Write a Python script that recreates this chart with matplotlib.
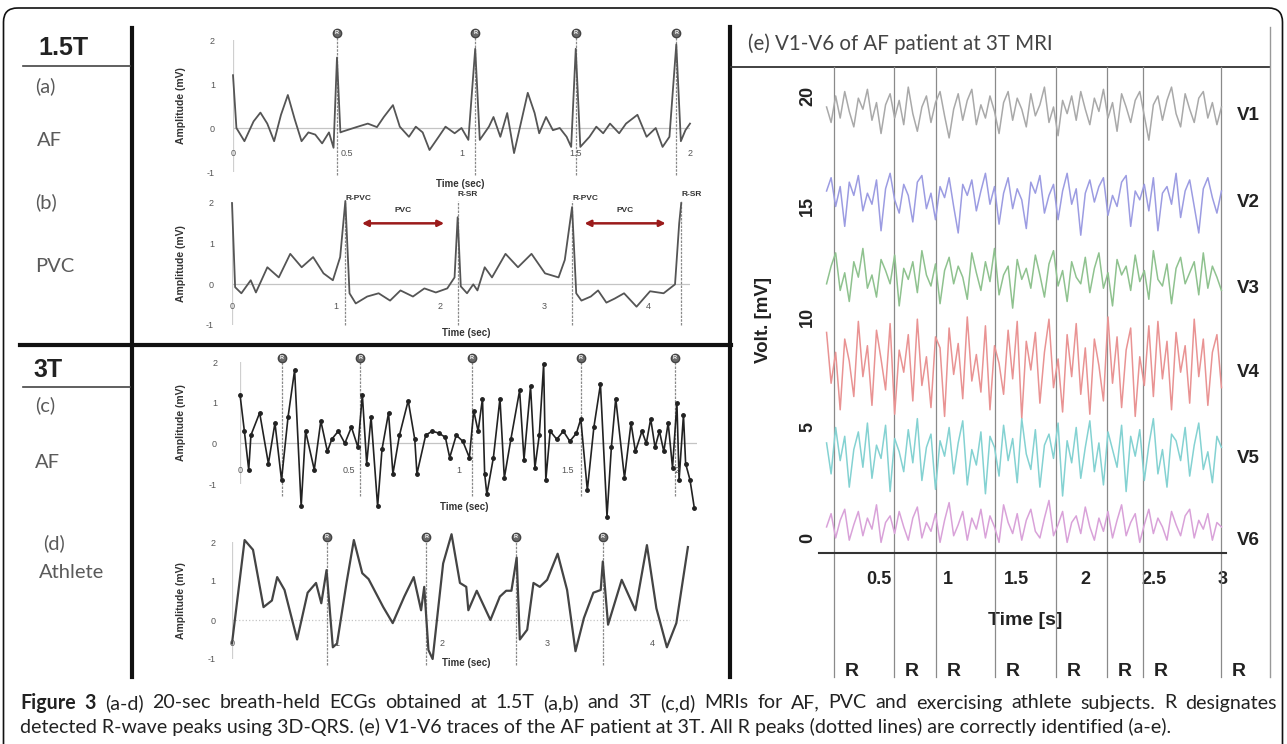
import matplotlib
matplotlib.use('Agg')
import matplotlib.pyplot as plt
from matplotlib.patches import FancyBboxPatch
import numpy as np

plt.rcParams['font.family'] = ['Liberation Sans', 'DejaVu Sans']
plt.rcParams['axes.unicode_minus'] = False

W, H = 1287, 744

# ---- (a) 1.5T, AF ----
t_a = [0.00, 0.015, 0.05, 0.09, 0.12, 0.15, 0.18, 0.21, 0.24, 0.27,
       0.30, 0.33, 0.36, 0.39, 0.42, 0.44, 0.455, 0.47, 0.48, 0.54,
       0.59, 0.63, 0.66, 0.70, 0.73, 0.77, 0.80, 0.83, 0.86, 0.90,
       0.93, 0.97, 1.00, 1.03, 1.06, 1.08, 1.12, 1.14, 1.17, 1.20,
       1.23, 1.29, 1.32, 1.34, 1.37, 1.40, 1.43, 1.46, 1.48, 1.50,
       1.52, 1.56, 1.59, 1.62, 1.65, 1.69, 1.72, 1.77, 1.81, 1.85,
       1.88, 1.91, 1.94, 1.96, 1.98, 2.00]
v_a = [1.20, 0.00, -0.30, 0.15, 0.35, 0.10, -0.30, 0.30, 0.75, 0.20,
       -0.30, -0.10, -0.15, -0.35, -0.10, -0.45, 1.60, -0.10, -0.08, 0.02,
       0.10, 0.02, 0.25, 0.52, 0.03, -0.20, 0.03, -0.10, -0.50, -0.20,
       0.03, -0.12, 0.00, -0.27, 1.80, -0.27, 0.03, 0.25, -0.20, 0.34,
       -0.57, 0.80, 0.34, -0.12, 0.25, -0.05, 0.00, -0.20, -0.43, 1.80,
       -0.43, -0.20, 0.03, -0.12, 0.10, -0.12, 0.10, 0.30, -0.20, 0.00,
       -0.43, -0.20, 1.90, -0.30, -0.05, 0.10]
r_a = [0.455, 1.06, 1.50, 1.94]
ticks_a = [0, 0.5, 1, 1.5, 2]

# ---- (b) 1.5T, PVC ----
t_b = [0.00, 0.03, 0.09, 0.18, 0.23, 0.34, 0.45, 0.56, 0.67, 0.78,
       0.88, 0.97, 1.04, 1.09, 1.13, 1.19, 1.30, 1.41, 1.52, 1.62,
       1.74, 1.85, 1.96, 2.07, 2.14, 2.17, 2.20, 2.26, 2.32, 2.36,
       2.43, 2.50, 2.63, 2.75, 2.88, 3.01, 3.14, 3.20, 3.27, 3.31,
       3.36, 3.45, 3.52, 3.60, 3.68, 3.77, 3.89, 4.02, 4.15, 4.26,
       4.30, 4.32]
v_b = [2.00, -0.07, -0.22, 0.10, -0.20, 0.42, 0.17, 0.75, 0.42, 0.67,
       0.27, 0.10, 0.67, 2.05, -0.22, -0.47, -0.30, -0.22, -0.40, -0.15,
       -0.30, -0.10, -0.20, -0.10, 0.17, 1.65, -0.05, -0.22, 0.00, -0.15,
       0.42, 0.17, 0.75, 0.42, 0.75, 0.27, 0.17, 0.60, 1.90, -0.22,
       -0.40, -0.30, -0.15, -0.45, -0.35, -0.22, -0.55, -0.17, -0.22, 0.00,
       1.50, 2.00]
r_b = [1.09, 2.17, 3.27, 4.32]
r_b_names = ['R-PVC', 'R-SR', 'R-PVC', 'R-SR']
pvc_spans = [(1.25, 2.04), (3.39, 4.17)]
ticks_b = [0, 1, 2, 3, 4]

# ---- (c) 3T, AF ----
t_c = [0.00, 0.02, 0.04, 0.05, 0.09, 0.13, 0.16, 0.19, 0.22, 0.25,
       0.28, 0.30, 0.34, 0.37, 0.40, 0.42, 0.45, 0.48, 0.51, 0.54,
       0.56, 0.58, 0.60, 0.63, 0.65, 0.68, 0.70, 0.73, 0.77, 0.80,
       0.81, 0.85, 0.88, 0.91, 0.94, 0.96, 0.99, 1.02, 1.05, 1.07,
       1.09, 1.11, 1.12, 1.13, 1.16, 1.19, 1.21, 1.24, 1.28, 1.30,
       1.33, 1.35, 1.37, 1.39, 1.40, 1.42, 1.45, 1.48, 1.51, 1.54,
       1.56, 1.59, 1.62, 1.65, 1.68, 1.70, 1.72, 1.76, 1.79, 1.81,
       1.84, 1.86, 1.88, 1.90, 1.92, 1.94, 1.96, 1.98, 2.00, 2.01,
       2.03, 2.04, 2.06, 2.08]
v_c = [1.20, 0.30, -0.65, 0.20, 0.75, -0.50, 0.50, -0.90, 0.65, 1.80,
       -1.55, 0.30, -0.65, 0.55, -0.20, 0.10, 0.30, 0.00, 0.40, -0.10,
       1.20, -0.50, 0.65, -1.55, -0.15, 0.75, -0.75, 0.20, 1.05, 0.10,
       -0.75, 0.20, 0.30, 0.25, 0.15, -0.35, 0.20, 0.05, -0.35, 0.80,
       0.30, 1.10, -0.75, -1.25, -0.35, 1.10, -0.85, 0.10, 1.30, -0.40,
       1.40, -0.60, 0.20, 1.95, -0.90, 0.30, 0.10, 0.30, 0.05, 0.25,
       0.60, -1.15, 0.40, 1.45, -1.80, -0.10, 1.10, -0.85, 0.50, -0.20,
       0.30, 0.00, 0.60, -0.10, 0.30, -0.20, 0.50, -0.60, 1.00, -0.90,
       0.70, -0.50, -0.90, -1.60]
r_c = [0.19, 0.55, 1.06, 1.56, 1.99]
ticks_c = [0, 0.5, 1, 1.5, 2]

# ---- (d) 3T, athlete ----
t_d = [0.00, 0.12, 0.20, 0.30, 0.38, 0.43, 0.50, 0.62, 0.72, 0.80,
       0.85, 0.90, 0.96, 1.00, 1.09, 1.16, 1.24, 1.30, 1.44, 1.53,
       1.64, 1.73, 1.80, 1.83, 1.87, 1.91, 2.01, 2.09, 2.17, 2.23,
       2.25, 2.33, 2.46, 2.55, 2.61, 2.66, 2.71, 2.74, 2.81, 2.87,
       2.93, 3.00, 3.10, 3.19, 3.27, 3.35, 3.44, 3.51, 3.53, 3.58,
       3.71, 3.84, 3.95, 4.04, 4.14, 4.23, 4.34]
v_d = [-0.60, 2.05, 1.80, 0.33, 0.50, 1.10, 0.77, -0.50, 0.70, 0.95,
       0.43, 1.28, -0.70, -0.60, 0.95, 2.05, 1.20, 1.05, 0.33, -0.08,
       0.60, 1.10, 0.25, 0.85, -0.77, -1.00, 1.45, 2.20, 0.95, 0.85,
       0.25, 0.75, 0.00, 0.60, 0.75, 0.75, 1.60, -0.50, -0.25, 0.95,
       0.85, 1.03, 1.70, 0.77, -0.80, 0.05, 0.70, 0.77, 1.50, -0.12,
       1.03, 0.25, 1.92, 0.30, -0.70, -0.08, 1.87]
r_d = [0.90, 1.85, 2.70, 3.53]
ticks_d = [0, 1, 2, 3, 4]

# ---- (e) V1-V6, AF patient at 3T ----
lead_names = ['V1', 'V2', 'V3', 'V4', 'V5', 'V6']
lead_base = [19.2, 15.3, 11.7, 7.8, 3.8, 0.3]
lead_label_y = [19.1, 15.2, 11.3, 7.5, 3.6, -0.1]
lead_colors = ['#a9a9a9', '#9c9ce2', '#8fc28f', '#e99393', '#84d2d2', '#d9a2d9']
v1 = [0.3, -0.4, 0.8, -0.2, 1.0, 0.1, -0.6, 0.7, 0.2, 1.1, -0.3, 0.5, -0.9, 0.4, 0.9, -0.2, 0.6, -0.5, 1.2, 0.0,
      -0.8, 0.3, 0.8, -0.4, 0.5, 1.0, -0.1, -1.1, 0.2, 0.9, -0.3, 0.6, 1.1, -0.5, 0.4, -0.2, 0.8, 0.1, -0.9, 0.5,
      1.0, -0.3, 0.7, 0.2, -0.6, 0.9, -0.1, 0.4, 1.2, -0.4, 0.3, -1.0, 0.6, 0.0, 0.8, -0.3, 1.0, 0.2, -0.5, 0.7,
      0.1, 1.1, -0.2, 0.5, -0.8, 0.9, 0.3, -0.4, 0.6, 1.0, -0.1, -1.2, 0.4, 0.8, -0.3, 0.6, 1.2, 0.0, -0.6, 0.9,
      0.2, -0.4, 0.7, 1.0, -0.2, 0.5, -0.5, 0.3]
v2 = [0.4, 1.0, -0.3, 0.6, -1.2, 0.8, 0.2, 1.1, -0.5, 0.3, -0.2, 0.9, -1.4, 0.5, 1.2, 0.0, -0.6, 0.7, 0.2, -1.0,
      0.8, 1.1, -0.4, 0.3, -0.9, 0.6, 0.1, 1.0, -0.3, -1.5, 0.7, 0.2, 0.9, -0.5, 0.4, 1.2, -0.2, 0.6, -1.1, 0.3,
      1.0, -0.4, 0.5, 0.0, -1.3, 0.8, 0.3, 1.1, -0.6, 0.2, 0.7, -0.9, 0.4, 1.2, -0.2, 0.5, -1.6, 0.3, 0.9, -0.1,
      0.6, 1.0, -0.7, 0.2, -0.3, 0.8, 1.1, -1.2, 0.4, 0.0, 0.7, -0.5, 1.0, -1.4, 0.3, 0.6, -0.2, 1.2, -0.8, 0.4,
      0.9, -0.3, -1.5, 0.5, 1.0, 0.1, -0.6, 0.4]
v3 = [-0.2, 0.6, 1.2, -0.5, 0.3, -1.0, 0.8, 0.1, 1.4, -0.4, 0.2, -0.8, 0.9, 0.4, -0.2, 1.1, -1.2, 0.5, 0.0, 0.8,
      -0.6, 1.3, 0.2, -0.3, 0.7, -1.1, 0.4, 1.0, -0.2, 0.6, 0.1, -0.9, 1.2, 0.3, -0.5, 0.8, -0.1, 1.4, -0.7, 0.2,
      0.6, -1.3, 0.9, 0.0, 0.5, -0.4, 1.1, 0.2, -0.8, 0.7, 1.3, -0.3, 0.4, -1.0, 0.8, 0.1, -0.2, 1.0, -0.6, 0.5,
      1.2, -0.4, 0.3, -1.2, 0.9, 0.2, 0.6, -0.5, 1.1, -0.1, 0.4, -0.9, 1.3, 0.0, -0.3, 0.7, -1.1, 0.5, 1.0, -0.2,
      0.3, 0.8, -0.7, 1.2, -0.4, 0.6, 0.1, -0.5]
v4 = [1.5, -0.8, 0.6, -2.0, 1.2, 0.2, -1.4, 2.0, -0.5, 0.9, -1.8, 1.6, 0.3, -1.1, 1.9, -2.2, 0.7, -0.3, 1.4, -1.6,
      2.1, -0.9, 0.4, -1.9, 1.3, 0.8, -2.3, 1.7, -0.4, 1.0, -1.5, 2.2, -0.7, 0.5, -1.2, 1.8, -2.0, 0.9, 0.1, -1.3,
      1.6, -0.6, 2.0, -2.4, 1.1, -0.2, 1.5, -1.7, 0.6, 2.1, -1.0, 0.3, -2.1, 1.4, -0.5, 1.9, -1.3, 0.8, -2.2, 1.2,
      0.0, -1.6, 2.2, -0.8, 1.3, -1.9, 0.7, 1.7, -2.3, 0.4, -0.9, 1.8, -1.4, 2.0, -0.6, 1.1, -2.0, 1.5, -0.3, 0.9,
      -1.7, 2.1, -0.5, 1.2, -1.8, 0.6, 1.4, -1.0]
v5 = [0.5, -0.9, 1.2, -0.3, 0.8, -1.5, 0.2, 1.0, -0.6, 1.4, -1.1, 0.4, -0.2, 1.3, -1.7, 0.7, 0.1, -0.8, 1.1, -0.4,
      1.6, -1.2, 0.3, 0.9, -1.6, 0.6, -0.1, 1.2, -0.9, 0.5, 1.5, -1.4, 0.2, -0.5, 1.0, -1.8, 0.8, 0.3, -1.0, 1.3,
      -0.3, 0.7, -1.3, 1.6, 0.0, -0.7, 1.1, -1.5, 0.4, 0.9, -0.2, 1.4, -1.9, 0.6, -0.4, 1.2, -1.1, 0.3, 1.5, -0.8,
      0.5, -1.4, 1.0, 0.2, -0.6, 1.3, -1.7, 0.8, -0.1, 1.1, -1.2, 0.4, 1.6, -0.9, 0.2, -1.5, 0.9, 0.6, -0.3, 1.2,
      -1.0, 0.4, 1.4, -0.7, 0.1, -1.3, 0.8, 0.3]
v6 = [0.2, 0.8, -0.3, 0.5, 1.0, -0.4, 0.3, 0.9, -0.2, 0.6, 0.1, 1.2, -0.5, 0.4, 0.7, -0.1, 0.9, 0.2, -0.4, 0.6,
      1.1, -0.3, 0.4, 0.0, 0.8, -0.5, 0.5, 1.3, -0.2, 0.3, 0.9, -0.4, 0.6, 0.1, 1.0, -0.3, 0.7, 0.2, -0.5, 1.2,
      0.4, -0.1, 0.8, -0.4, 0.5, 1.0, 0.0, -0.3, 0.6, 1.4, -0.2, 0.3, 0.9, -0.5, 0.4, 0.7, -0.1, 1.1, 0.2, -0.4,
      0.6, 0.0, 0.9, -0.3, 0.5, 1.2, -0.2, 0.4, 0.8, -0.5, 0.3, 1.0, -0.1, 0.6, 0.2, -0.4, 0.9, 0.3, -0.2, 0.7,
      1.0, -0.3, 0.5, 0.1, 0.8, -0.4, 0.4, 0.2]
leads = [v1, v2, v3, v4, v5, v6]
t_e = np.linspace(0.12, 2.99, len(v1))  # sample times of the traces
r_e = [0.174, 0.610, 0.916, 1.344, 1.788, 2.158, 2.420, 2.987]
ticks_e = [0.5, 1, 1.5, 2, 2.5, 3]
volt_ticks = [0, 5, 10, 15, 20]

caption1 = ('Figure 3 (a-d) 20-sec breath-held ECGs obtained at 1.5T (a,b) and 3T (c,d) MRIs '
            'for AF, PVC and exercising athlete subjects. R designates')
caption2 = ('detected R-wave peaks using 3D-QRS. (e) V1-V6 traces of the AF patient at 3T. '
            'All R peaks (dotted lines) are correctly identified (a-e).')


fig = plt.figure(figsize=(W / 100, H / 100), dpi=100)
bg = fig.add_axes([0, 0, 1, 1])
bg.set_xlim(0, W)
bg.set_ylim(H, 0)
bg.axis('off')


def px_axes(x0, y0, x1, y1):
    return fig.add_axes([x0 / W, 1 - y1 / H, (x1 - x0) / W, (y1 - y0) / H])


# frame and separators
bg.add_patch(FancyBboxPatch((3.5, 8), 1279, 790, boxstyle='round,pad=0,rounding_size=14',
                            fill=False, ec='#111', lw=1.2))
bg.plot([132, 132], [28, 677], color='#111', lw=3)
bg.plot([20, 731], [345, 345], color='#111', lw=3)
bg.plot([730, 730], [27, 677], color='#111', lw=3)
bg.plot([731, 1270], [67, 67], color='#333', lw=1.3)
bg.plot([1270, 1270], [27, 677], color='#999', lw=1)
bg.plot([23, 130], [66, 66], color='#444', lw=1.2)
bg.plot([23, 130], [387, 387], color='#444', lw=1.2)

bg.text(38, 48, '1.5T', fontsize=18, fontweight='bold', color='#222', va='center')
bg.text(33, 370, '3T', fontsize=18, fontweight='bold', color='#222', va='center')
for txt, x, y in [('(a)', 35, 86), ('AF', 37, 140), ('(b)', 35, 202), ('PVC', 35, 267),
                  ('(c)', 35, 405), ('AF', 35, 462), ('(d)', 43, 543), ('Athlete', 39, 573)]:
    bg.text(x, y, txt, fontsize=14.5, family='Lato', color='#5a5a5a', va='center')
bg.text(748, 44, '(e) V1-V6 of AF patient at 3T MRI', fontsize=14.8, family='Lato',
        color='#444', va='center')


def ecg_panel(box, tmax, t, v, rpk, rtop, rbot, ticks, tick_y, xlab, ypad,
              color='#555', lw=1.3, zero_ls='-', dots=False, circles=True):
    x0, y0, x1, y1 = box
    ax = px_axes(x0, y0, x1, y1)
    ax.set_xlim(0, tmax)
    ax.set_ylim(-1, 2)
    ax.patch.set_alpha(0)
    for s in ax.spines.values():
        s.set_visible(False)
    ax.set_xticks([])
    ax.set_yticks([-1, 0, 1, 2])
    ax.tick_params(axis='y', length=0, pad=ypad, labelsize=6.5, labelcolor='#555')
    ax.axhline(0, color='#c4c4c4', lw=0.9, ls=zero_ls)
    ax.axvline(0, color='#cfcfcf', lw=0.9)
    ax.vlines(rpk, rbot, rtop, colors='#8a8a8a', lw=0.9, linestyles=(0, (2, 1)), clip_on=False)
    if circles:
        ax.plot(rpk, [rtop] * len(rpk), 'o', ms=6, mfc='#6a6a6a', mec='#444', clip_on=False)
        for r in rpk:
            ax.text(r, rtop, 'R', fontsize=4, color='white', fontweight='bold',
                    ha='center', va='center', clip_on=False)
    if dots:
        ax.plot(t, v, color=color, lw=lw, marker='o', ms=2.5, clip_on=False)
    else:
        ax.plot(t, v, color=color, lw=lw, clip_on=False)
    for tk in ticks:
        ax.text(tk, tick_y, f'{tk:g}', ha='center', va='center', fontsize=6.5, color='#555')
    ax.set_ylabel('Amplitude (mV)', fontsize=7.5, fontweight='bold', color='#333')
    ax.yaxis.set_label_coords((186 - x0) / (x1 - x0), 0.5)
    ax.set_xlabel('Time (sec)', fontsize=7, fontweight='bold', color='#333')
    ax.xaxis.label.set_va('center')
    ax.xaxis.set_label_coords((xlab[0] - x0) / (x1 - x0), (y1 - xlab[1]) / (y1 - y0))
    return ax


ax_a = ecg_panel((233, 40, 690, 172), 2.0, t_a, v_a, r_a, 2.16, -1.07, ticks_a, -0.57,
                 (460, 184), 13)
ax_b = ecg_panel((232, 203, 690, 325), 4.404, t_b, v_b, r_b, 2.05, -1.0, ticks_b, -0.54,
                 (466, 333), 13, circles=False)
for r, name in zip(r_b, r_b_names):
    ax_b.text(r, 2.11 if name == 'R-PVC' else 2.2, name, fontsize=6, fontweight='bold',
              color='#333', ha='left', va='center', clip_on=False)
for a0, a1 in pvc_spans:
    ax_b.annotate('', xy=(a1, 1.5), xytext=(a0, 1.5),
                  arrowprops=dict(arrowstyle='<|-|>', color='#9b1b1b', lw=1.8,
                                  mutation_scale=9, shrinkA=0, shrinkB=0))
    ax_b.text((a0 + a1) / 2, 1.82, 'PVC', fontsize=6, fontweight='bold', color='#333',
              ha='center', va='center')
ax_c = ecg_panel((240, 362, 697, 484), 2.092, t_c, v_c, r_c, 2.11, -1.3, ticks_c, -0.66,
                 (464, 507), 16.5, color='#222', lw=1.2, dots=True)
ax_d = ecg_panel((232, 542, 690, 659), 4.36, t_d, v_d, r_d, 2.13, -1.15, ticks_d, -0.6,
                 (466, 663), 12, color='#444', lw=1.6, zero_ls=':')

# ---- (e) ----
ax_e = px_axes(819, 67, 1226, 553)
ax_e.set_xlim(0.065, 3.023)
ax_e.set_ylim(-0.68, 21.31)
ax_e.patch.set_alpha(0)
for side in ['left', 'top', 'right']:
    ax_e.spines[side].set_visible(False)
ax_e.spines['bottom'].set_linewidth(1.5)
ax_e.spines['bottom'].set_color('#333')
for r in r_e:
    ax_e.axvline(r, ymin=-0.255, ymax=1.0, color='#8a8a8a', lw=0.9, clip_on=False)
    ax_e.annotate('R', xy=(r, -0.243), xycoords=ax_e.get_xaxis_transform(), xytext=(13, 0),
                  textcoords='offset points', ha='center', va='center', fontsize=14,
                  fontweight='bold', color='#222')
for vals, base, col in zip(leads, lead_base, lead_colors):
    ax_e.plot(t_e, np.array(vals) + base, color=col, lw=1.1)
for name, ly in zip(lead_names, lead_label_y):
    ax_e.text(3.103, ly, name, fontsize=13.5, fontweight='bold', color='#222',
              ha='left', va='center', clip_on=False)
ax_e.set_xticks(ticks_e)
ax_e.set_xticklabels([f'{x:g}' for x in ticks_e], fontsize=13, fontweight='bold', color='#222')
ax_e.set_yticks(volt_ticks)
ax_e.set_yticklabels([str(x) for x in volt_ticks], fontsize=13, fontweight='bold', color='#222',
                     rotation=90, va='center')
ax_e.tick_params(axis='x', length=0, pad=13)
ax_e.tick_params(axis='y', length=0, pad=2)
ax_e.set_xlabel('Time [s]', fontsize=14, fontweight='bold', color='#222')
ax_e.xaxis.label.set_va('center')
ax_e.xaxis.set_label_coords(0.506, -0.138)
ax_e.set_ylabel('Volt. [mV]', fontsize=13.5, fontweight='bold', color='#222')
ax_e.yaxis.set_label_coords(-0.115, 0.479)

# ---- caption: second line sets the size, first line is justified ----
renderer = fig.canvas.get_renderer()
cap_font = 'Lato'
line2 = bg.text(20, 727, caption2, fontsize=12, family=cap_font, color='#222', va='center')
cap_size = 12 * (1163 - 20) / line2.get_window_extent(renderer).width
line2.set_fontsize(cap_size)

words = caption1.split(' ')
items = []
for i, w in enumerate(words):
    items.append(bg.text(0, 703, w, fontsize=cap_size, family=cap_font, color='#222', va='center',
                         fontweight='bold' if i < 2 else 'normal'))
widths = [it.get_window_extent(renderer).width for it in items]
gap = (1277 - 20 - sum(widths)) / (len(items) - 1)
x = 20
for it, wd in zip(items, widths):
    it.set_x(x)
    x += wd + gap

fig.savefig('out.png', dpi=100)
